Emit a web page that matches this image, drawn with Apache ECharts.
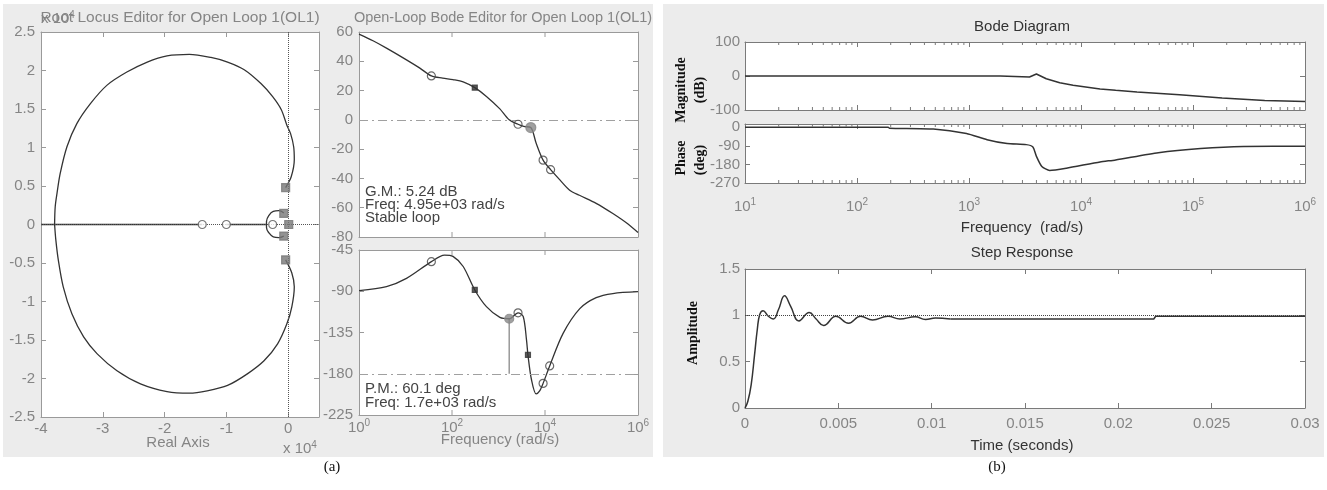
<!DOCTYPE html>
<html><head><meta charset="utf-8">
<script src="https://cdn.jsdelivr.net/npm/echarts@6/dist/echarts.min.js"></script>
<style>html,body{margin:0;padding:0;background:#fff}#c{width:1327px;height:490px}</style>
</head><body><div id="c"></div>
<script>
// ---------------- DATA ----------------
// Root locus (units x10^4)
const rlUpper = [[-0.04,0.48],[0.05,0.62],[0.10,0.84],[0.09,1.01],[0.04,1.18],[-0.02,1.29],[-0.11,1.49],[-0.25,1.66],[-0.44,1.83],[-0.71,2.01],[-0.98,2.11],[-1.25,2.17],[-1.60,2.21],[-1.96,2.19],[-2.28,2.11],[-2.61,1.98],[-2.93,1.81],[-3.20,1.57],[-3.42,1.31],[-3.58,1.01],[-3.69,0.66],[-3.74,0.41],[-3.77,0.23],[-3.78,0]];
const rlLower = [[-0.04,-0.46],[0.06,-0.63],[0.10,-0.81],[0.06,-1.07],[-0.02,-1.29],[-0.17,-1.55],[-0.39,-1.77],[-0.66,-1.94],[-0.98,-2.09],[-1.31,-2.16],[-1.60,-2.19],[-1.96,-2.17],[-2.39,-2.07],[-2.77,-1.90],[-3.09,-1.68],[-3.31,-1.46],[-3.50,-1.16],[-3.64,-0.81],[-3.72,-0.46],[-3.76,-0.20],[-3.78,0]];
const rlLoop = [[-0.07,0.15],[-0.15,0.18],[-0.24,0.17],[-0.31,0.12],[-0.35,0.04],[-0.35,-0.04],[-0.31,-0.11],[-0.24,-0.16],[-0.15,-0.17],[-0.07,-0.15]];
const rlRealSeg1 = [[-4,0],[-1.39,0]];
const rlRealSeg2 = [[-1.0,0],[-0.35,0]];
const rlZeros = [[-1.39,0],[-1.0,0],[-0.25,0]];
const rlPoles = [[-0.04,0.48],[-0.04,-0.46],[-0.07,0.145],[-0.07,-0.15],[0.01,0]];
const rlXTicks = {min:-4, max:0.5, step:1};
const rlYTicks = {min:-2.5, max:2.5, step:0.5};

// Open-loop Bode (a): [freq rad/s, value]
const bodeAMag = [[1,58.5],[2,54],[3.9,49],[10.5,41],[20,35.5],[36,30],[63,28.5],[105,27.5],[174,26],[309,22],[550,16],[1070,7.5],[1700,0],[2630,-3],[3500,-4.5],[4950,-5.24],[6460,-16],[9100,-27.5],[13200,-34],[20900,-41],[33900,-48],[55000,-51.5],[126000,-57],[288000,-64],[600000,-71],[1000000,-77]];
const bodeAPhase = [[1,-89.4],[3.9,-85],[10.5,-76],[36,-57.7],[69,-50.5],[105,-52],[174,-63],[309,-88.6],[550,-106.8],[1070,-118.5],[1700,-120],[2630,-113.5],[3400,-117.5],[4000,-143],[4300,-159.5],[5100,-186],[6460,-202],[7600,-199],[9100,-190.5],[12600,-171.5],[24500,-136],[56000,-109],[126000,-97],[288000,-92.5],[1000000,-90.5]];
const bodeAMagOpen = [[36,30],[2630,-3],[9100,-27.5],[13200,-34]];
const bodeAMagDark = [[309,22]];
const bodeAMagFilled = [[4950,-5.24]];
const bodeAPhOpen = [[36,-57.7],[2630,-113.5],[9100,-190.5],[12600,-171.5]];
const bodeAPhDark = [[309,-88.6],[4300,-159.5]];
const bodeAPhFilled = [[1700,-120]];
const pmLine = [[1700,-120],[1700,-180]];
const bodeATickFreqs = [100,10000];

// Bode diagram (b)
const bodeBMag = [[10,0],[1900,0],[1910,-3],[3470,-3],[4000,6],[4900,-8],[6460,-20],[8500,-27],[14800,-38],[20400,-42],[31600,-47],[75900,-55],[182000,-65],[437000,-72],[1000000,-75]];
const bodeBPhase = [[10,0],[190,0],[195,-4],[480,-8],[950,-30],[1450,-60],[2190,-79],[3240,-84],[3720,-95],[4000,-141],[4470,-190],[5250,-209],[7400,-198],[14800,-168],[20400,-158],[49000,-123],[117000,-103],[282000,-93],[1000000,-92]];
const minorFreqs = [20,30,40,50,60,70,80,90,200,300,400,500,600,700,800,900,2000,3000,4000,5000,6000,7000,8000,9000,20000,30000,40000,50000,60000,70000,80000,90000,200000,300000,400000,500000,600000,700000,800000,900000];

// Step response (b)
const stepOsc = [[0,0],[0.00015,0.07],[0.00033,0.25],[0.00051,0.57],[0.00066,0.85],[0.00079,1.01],[0.00097,1.05],[0.00125,0.99],[0.00152,0.96],[0.00179,1.06],[0.00212,1.21],[0.00244,1.10],[0.00289,0.94],[0.00344,1.03],[0.00381,0.96],[0.00421,0.89],[0.00487,0.99],[0.00555,0.915],[0.00619,0.99],[0.00683,0.95],[0.00766,0.99],[0.0083,0.96],[0.00912,0.985],[0.00967,0.955],[0.0102,0.97],[0.011,0.96]];
const stepTail = [[0.011,0.96],[0.0219,0.96],[0.022,0.99],[0.03,0.99]];

// ---------------- STYLE ----------------
const SANS = 'Liberation Sans, Arial, sans-serif';
const SERIF = 'Liberation Serif, Times New Roman, serif';
const FRAME_A = '#9a9a9a', LABEL_A = '#858585';
const FRAME_B = '#7a7a7a', LABEL_B = '#858585';
const CURVE = '#333';
const FS = 15;

const chart = echarts.init(document.getElementById('c'), null, {renderer:'canvas'});

const grids = [
  {left:41, top:32, width:278, height:385},   // root locus
  {left:359, top:32, width:279, height:205},  // bode mag a
  {left:359, top:250, width:279, height:165}, // bode phase a
  {left:745, top:42, width:560, height:68},   // bode mag b
  {left:745, top:124, width:560, height:59},  // bode phase b
  {left:745, top:269, width:560, height:139}  // step
].map(g => Object.assign({show:true, backgroundColor:'#fff', borderWidth:0, containLabel:false}, g));

const supRich = (color) => ({
  b:{fontSize:FS, fontFamily:SANS, color:color, lineHeight:19},
  e:{fontSize:10, fontFamily:SANS, color:color, lineHeight:10, verticalAlign:'top'}
});

function xAx(gi, pos, base, showLabel, frame, labelColor) {
  return Object.assign({
    gridIndex:gi, position:pos,
    axisLine:{show:true, onZero:false, lineStyle:{color:frame, width:1}},
    axisTick:{show:true, inside:true, length:5, lineStyle:{color:frame}},
    axisLabel:{show:showLabel, color:labelColor, fontSize:FS, fontFamily:SANS, margin:4},
    splitLine:{show:false}
  }, base);
}
function yAx(gi, pos, base, showLabel, frame, labelColor) {
  return Object.assign({
    gridIndex:gi, position:pos,
    axisLine:{show:true, onZero:false, lineStyle:{color:frame, width:1}},
    axisTick:{show:true, inside:true, length:5, lineStyle:{color:frame}},
    axisLabel:{show:showLabel, color:labelColor, fontSize:FS, fontFamily:SANS, margin:6},
    splitLine:{show:false}
  }, base);
}

const xAxes = [], yAxes = [];
function addPair(gi, xb, yb, frame, lab, xLabelExtra, yLabelExtra) {
  const xa = xAx(gi, 'bottom', JSON.parse(JSON.stringify(xb)), true, frame, lab);
  const xt = xAx(gi, 'top', JSON.parse(JSON.stringify(xb)), false, frame, lab);
  if (xb.axisTick) { xa.axisTick = Object.assign({}, xa.axisTick, xb.axisTick); xt.axisTick = Object.assign({}, xt.axisTick, xb.axisTick); }
  if (xLabelExtra) Object.assign(xa.axisLabel, xLabelExtra);
  const ya = yAx(gi, 'left', yb, true, frame, lab);
  const yr = yAx(gi, 'right', yb, false, frame, lab);
  if (yLabelExtra) Object.assign(ya.axisLabel, yLabelExtra);
  xAxes.push(xa, xt); yAxes.push(ya, yr);
}

const logFmtEven = v => { const e = Math.round(Math.log10(v)); return (e % 2 === 0) ? '{b|10}{e|' + e + '}' : ''; };
const logFmtAll = v => { const e = Math.round(Math.log10(v)); return '{b|10}{e|' + e + '}'; };

// grid 0: root locus
addPair(0, {type:'value', min:rlXTicks.min, max:rlXTicks.max, interval:rlXTicks.step},
           {type:'value', min:rlYTicks.min, max:rlYTicks.max, interval:rlYTicks.step},
           FRAME_A, LABEL_A, {showMaxLabel:false, margin:4});
// grid 1: mag a
addPair(1, {type:'log', logBase:10, min:1, max:1e6, axisTick:{show:false}},
           {type:'value', min:-80, max:60, interval:20}, FRAME_A, LABEL_A, {show:false});
// grid 2: phase a
addPair(2, {type:'log', logBase:10, min:1, max:1e6, axisTick:{show:false}},
           {type:'value', min:-225, max:-45, interval:45}, FRAME_A, LABEL_A,
           {formatter:logFmtEven, rich:supRich(LABEL_A), margin:3});
// grid 3: mag b
addPair(3, {type:'log', logBase:10, min:10, max:1e6},
           {type:'value', min:-100, max:100, interval:100}, FRAME_B, LABEL_B, {show:false}, {margin:5});
// grid 4: phase b
addPair(4, {type:'log', logBase:10, min:10, max:1e6},
           {type:'value', min:-270, max:16, interval:90}, FRAME_B, LABEL_B,
           {formatter:logFmtAll, rich:supRich(LABEL_B), margin:14}, {margin:5, showMaxLabel:false});
// grid 5: step
addPair(5, {type:'value', min:0, max:0.03, interval:0.005},
           {type:'value', min:0, max:1.5, interval:0.5}, FRAME_B, LABEL_B, {margin:8}, {margin:5});

function line(gi, data, opts) {
  return Object.assign({type:'line', xAxisIndex:2*gi, yAxisIndex:2*gi, data:data, showSymbol:false, symbol:'none',
    lineStyle:{color:CURVE, width:1.3}, silent:true, animation:false, z:3}, opts || {});
}
function scatter(gi, data, symbol, size, fill, stroke) {
  return {type:'scatter', xAxisIndex:2*gi, yAxisIndex:2*gi, data:data, symbol:symbol, symbolSize:size,
    itemStyle:{color:fill, borderColor:stroke, borderWidth:1.2}, silent:true, animation:false, z:6};
}
function tickSeries(gi, vals, yMin, yMax, len, color) {
  return {type:'custom', xAxisIndex:2*gi, yAxisIndex:2*gi, data:vals.map(v => [v, yMin]), clip:false, silent:true, z:5,
    animation:false, encode:{x:0, y:1},
    renderItem(params, api) {
      const v = api.value(0);
      const b = api.coord([v, yMin]), t = api.coord([v, yMax]);
      return {type:'group', children:[
        {type:'line', shape:{x1:b[0], y1:b[1], x2:b[0], y2:b[1]-len}, style:{stroke:color, lineWidth:1}},
        {type:'line', shape:{x1:t[0], y1:t[1], x2:t[0], y2:t[1]+len}, style:{stroke:color, lineWidth:1}}
      ]};
    }};
}
function refLine(gi, axis, val, type, color) {
  const d = {}; d[axis] = val;
  return {type:'line', xAxisIndex:2*gi, yAxisIndex:2*gi, data:[], silent:true, animation:false,
    markLine:{silent:true, symbol:'none', label:{show:false}, animation:false,
      lineStyle:{color:color, type:type, width:1}, data:[d]}};
}

const series = [
  // root locus
  refLine(0, 'xAxis', 0, 'dotted', '#555'),
  refLine(0, 'yAxis', 0, 'dotted', '#555'),
  line(0, rlRealSeg1), line(0, rlRealSeg2),
  line(0, rlUpper, {smooth:0.3}), line(0, rlLower, {smooth:0.3}), line(0, rlLoop, {smooth:0.4}),
  scatter(0, rlZeros, 'circle', 8, '#fff', '#555'),
  scatter(0, rlPoles, 'rect', 8, '#777', '#777'),
  // bode a mag
  refLine(1, 'yAxis', 0, [9,4,2,4], '#a0a0a0'),
  line(1, bodeAMag, {smooth:0.3}),
  scatter(1, bodeAMagOpen, 'circle', 8, 'rgba(255,255,255,0)', '#444'),
  scatter(1, bodeAMagDark, 'rect', 5, '#333', '#333'),
  scatter(1, bodeAMagFilled, 'circle', 10, '#888', '#888'),
  tickSeries(1, bodeATickFreqs, -80, 60, 5, FRAME_A),
  // bode a phase
  refLine(2, 'yAxis', -180, [9,4,2,4], '#a0a0a0'),
  line(2, pmLine, {lineStyle:{color:'#999', width:1.5}}),
  line(2, bodeAPhase, {smooth:0.3}),
  scatter(2, bodeAPhOpen, 'circle', 8, 'rgba(255,255,255,0)', '#444'),
  scatter(2, bodeAPhDark, 'rect', 5, '#333', '#333'),
  scatter(2, bodeAPhFilled, 'circle', 9, '#888', '#888'),
  tickSeries(2, bodeATickFreqs, -225, -45, 5, FRAME_A),
  // bode b
  line(3, bodeBMag, {lineStyle:{color:CURVE, width:1.5}}),
  tickSeries(3, minorFreqs, -100, 100, 3, FRAME_B),
  line(4, bodeBPhase, {smooth:0.2, lineStyle:{color:CURVE, width:1.5}}),
  tickSeries(4, minorFreqs, -270, 16, 3, FRAME_B),
  // step
  refLine(5, 'yAxis', 1, 'dotted', '#444'),
  line(5, stepOsc, {smooth:0.45, lineStyle:{color:CURVE, width:1.5}}),
  line(5, stepTail, {lineStyle:{color:CURVE, width:1.5}})
];

function txt(x, y, text, opts) {
  const o = opts || {};
  return {type:'text', x:x, y:y, z:100, rotation:o.rotation || 0, silent:true,
    style:{text:text, fill:o.color || '#333', font:(o.weight || 'normal') + ' ' + (o.size || FS) + 'px ' + (o.family || SANS),
      align:o.align || 'center', verticalAlign:'middle', textAlign:o.align || 'center', textVerticalAlign:'middle', rich:o.rich}};
}
const x104Rich = {
  a:{fontSize:FS, fontFamily:SANS, color:LABEL_A, lineHeight:17},
  e:{fontSize:10, fontFamily:SANS, color:LABEL_A, lineHeight:10, verticalAlign:'top'}
};

const graphic = [
  {type:'rect', z:-10, silent:true, shape:{x:3, y:4, width:650, height:453}, style:{fill:'#ececec'}},
  {type:'rect', z:-10, silent:true, shape:{x:663, y:4, width:661, height:453}, style:{fill:'#ececec'}},
  txt(180, 18, 'Root Locus Editor for Open Loop 1(OL1)', {color:LABEL_A, size:15.5}),
  txt(41, 19, '{a|x 10}{e|4}', {color:LABEL_A, align:'left', rich:x104Rich}),
  txt(178, 443, 'Real Axis', {color:LABEL_A}),
  txt(283, 449, '{a|x 10}{e|4}', {color:LABEL_A, align:'left', rich:x104Rich}),
  txt(503, 18, 'Open-Loop Bode Editor for Open Loop 1(OL1)', {color:LABEL_A, size:14.5}),
  txt(365, 192, 'G.M.: 5.24 dB', {color:'#444', align:'left'}),
  txt(365, 205, 'Freq: 4.95e+03 rad/s', {color:'#444', align:'left'}),
  txt(365, 218, 'Stable loop', {color:'#444', align:'left'}),
  txt(365, 389, 'P.M.: 60.1 deg', {color:'#444', align:'left'}),
  txt(365, 403, 'Freq: 1.7e+03 rad/s', {color:'#444', align:'left'}),
  txt(500, 440, 'Frequency (rad/s)', {color:LABEL_A}),
  txt(332, 467, '(a)', {color:'#111', family:SERIF, size:15}),
  txt(1022, 27, 'Bode Diagram', {color:'#333'}),
  txt(1022, 228, 'Frequency  (rad/s)', {color:'#333'}),
  txt(1022, 253, 'Step Response', {color:'#333'}),
  txt(1022, 446, 'Time (seconds)', {color:'#333'}),
  txt(997, 467, '(b)', {color:'#111', family:SERIF, size:15}),
  txt(681, 90, 'Magnitude', {color:'#111', family:SERIF, weight:'bold', size:14, rotation:Math.PI/2}),
  txt(700, 90, '(dB)', {color:'#111', family:SERIF, weight:'bold', size:14, rotation:Math.PI/2}),
  txt(681, 158, 'Phase', {color:'#111', family:SERIF, weight:'bold', size:14, rotation:Math.PI/2}),
  txt(700, 160, '(deg)', {color:'#111', family:SERIF, weight:'bold', size:14, rotation:Math.PI/2}),
  txt(693, 333, 'Amplitude', {color:'#111', family:SERIF, weight:'bold', size:14, rotation:Math.PI/2})
];

chart.setOption({
  animation:false,
  backgroundColor:'#fff',
  grid:grids,
  xAxis:xAxes,
  yAxis:yAxes,
  series:series,
  graphic:graphic
});
</script></body></html>
